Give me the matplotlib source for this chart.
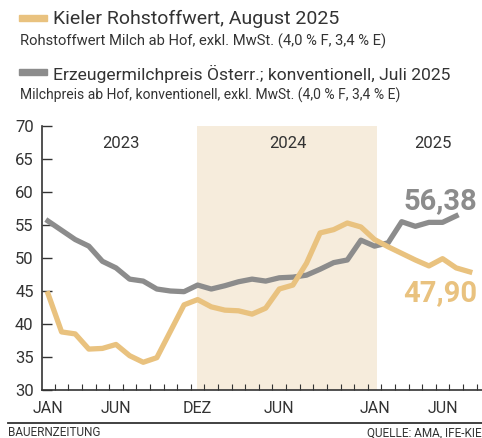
import matplotlib.pyplot as plt
import numpy as np

plt.rcParams['font.family'] = ['Roboto', 'DejaVu Sans']

# Monatswerte Jan 2023 .. Aug 2025 (Cent/kg)
kieler = [44.6, 38.8, 38.5, 36.2, 36.3, 36.9, 35.2, 34.2, 34.9, 38.9, 42.9, 43.7,
          42.6, 42.1, 42.0, 41.5, 42.4, 45.3, 45.9, 49.2, 53.8, 54.3, 55.3, 54.7,
          52.8, 51.7, 50.7, 49.7, 48.8, 49.9, 48.5, 47.9]
erzeuger = [55.6, 54.2, 52.8, 51.8, 49.5, 48.5, 46.8, 46.5, 45.3, 45.0, 44.9, 45.9,
            45.3, 45.8, 46.4, 46.8, 46.5, 47.0, 47.1, 47.4, 48.3, 49.3, 49.7, 52.7,
            51.8, 52.3, 55.5, 54.8, 55.4, 55.4, 56.38]
month_labels = ['JAN', 'JUN', 'DEZ', 'JUN', 'JAN', 'JUN']
month_pos = [0, 5, 11, 17, 24, 29]
years = ['2023', '2024', '2025']
year_pos = [5.4, 17.6, 28.3]

orange = '#E9C27F'
grey = '#8C8C8C'
text_c = '#333333'

fig = plt.figure(figsize=(4.82, 4.38), dpi=100)
ax = fig.add_axes([42 / 482, 48 / 438, 1 - 42 / 482, 264 / 438])

ax.axvspan(10.96, 24.2, color='#F6ECDC', lw=0, zorder=0)
ax.plot(np.arange(len(erzeuger)), erzeuger, color=grey, lw=3.8, zorder=3)
ax.plot(np.arange(len(kieler)), kieler, color=orange, lw=3.8, zorder=3)

ax.set_xlim(-0.44, 31.9)
ax.set_ylim(30, 70)
ax.set_yticks(range(30, 71, 5))
ax.set_xticks(month_pos)
ax.set_xticklabels(month_labels)
ax.set_xticks(np.arange(0.5, 32, 1), minor=True)
ax.tick_params(axis='y', direction='in', length=7, width=1, colors=text_c, labelsize=12, pad=6)
ax.tick_params(axis='x', which='major', length=0, colors=text_c, labelsize=11.5, pad=8)
ax.tick_params(axis='x', which='minor', direction='in', length=4, width=0.8, color=text_c)
for s in ['top', 'right']:
    ax.spines[s].set_visible(False)
for s in ['left', 'bottom']:
    ax.spines[s].set_color(text_c)
    ax.spines[s].set_linewidth(1.2)

for y, p in zip(years, year_pos):
    ax.text(p, 67.4, y, ha='center', va='center', fontsize=12, color=text_c)

ax.text(26.1, 58.6, '56,38', ha='left', va='center', fontsize=21,
        fontweight='bold', color=grey)
ax.text(26.1, 44.7, '47,90', ha='left', va='center', fontsize=21,
        fontweight='bold', color=orange)

# Legende oben
fig.patches.append(plt.Rectangle((19 / 482, 1 - 21 / 438), 28 / 482, 6 / 438,
                                 transform=fig.transFigure, color=orange))
fig.patches.append(plt.Rectangle((19 / 482, 1 - 75 / 438), 28 / 482, 6 / 438,
                                 transform=fig.transFigure, color=grey))
fig.text(53 / 482, 1 - 19 / 438, 'Kieler Rohstoffwert, August 2025',
         fontsize=14, color=text_c, va='center')
fig.text(20 / 482, 1 - 41 / 438,
         'Rohstoffwert Milch ab Hof, exkl. MwSt. (4,0 % F, 3,4 % E)',
         fontsize=10.6, color=text_c, va='center')
fig.text(53 / 482, 1 - 74 / 438,
         'Erzeugermilchpreis Österr.; konventionell, Juli 2025',
         fontsize=12.6, color=text_c, va='center')
fig.text(20 / 482, 1 - 95 / 438,
         'Milchpreis ab Hof, konventionell, exkl. MwSt. (4,0 % F, 3,4 % E)',
         fontsize=10, color=text_c, va='center')

# Fußzeile
fig.add_artist(plt.Line2D([8 / 482, 1], [1 - 423 / 438, 1 - 423 / 438],
                          transform=fig.transFigure, color=text_c, lw=1.3))
fig.text(8 / 482, 1 - 433 / 438, 'BAUERNZEITUNG', fontsize=8.5,
         color=text_c, va='center')
fig.text(367 / 482, 1 - 433 / 438, 'QUELLE: AMA, IFE-KIEL', fontsize=8.5,
         color=text_c, va='center')

fig.savefig('out.png', dpi=100)
